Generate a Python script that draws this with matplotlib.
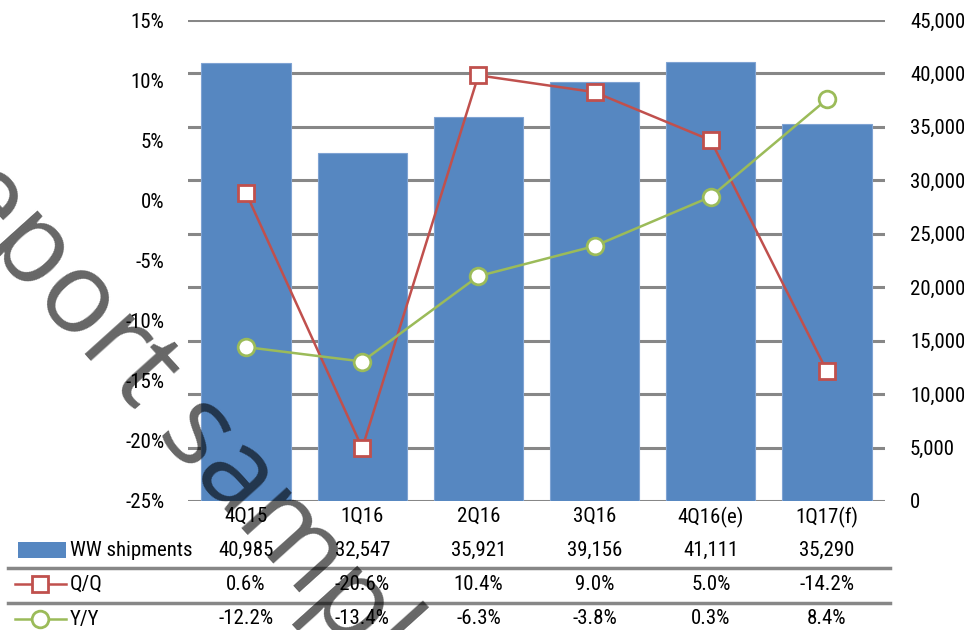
import matplotlib
matplotlib.use("Agg")
import matplotlib.pyplot as plt
import matplotlib.transforms as mtransforms
from matplotlib.lines import Line2D
from matplotlib.patches import Rectangle

plt.rcParams['font.family'] = ['Roboto Condensed', 'Liberation Sans Narrow', 'Liberation Sans', 'DejaVu Sans']

quarters = ["4Q15", "1Q16", "2Q16", "3Q16", "4Q16(e)", "1Q17(f)"]
shipments = [40985, 32547, 35921, 39156, 41111, 35290]
qq = [0.6, -20.6, 10.4, 9.0, 5.0, -14.2]
yy = [-12.2, -13.4, -6.3, -3.8, 0.3, 8.4]
left_ticks = [15, 10, 5, 0, -5, -10, -15, -20, -25]
right_ticks = list(range(0, 45001, 5000))

bar_color = "#5687C1"
red = "#C0504D"
green = "#9BBB59"
grid_color = "#878787"
fs = 15

fig = plt.figure(figsize=(9.64, 6.3), dpi=100)
W, H = 964, 630
ax2 = fig.add_axes([188 / W, 1 - 501 / H, (885 - 188) / W, 481 / H])  # bars, right axis
ax = ax2.twinx()  # percent lines, left axis
ax.yaxis.tick_left()
ax2.yaxis.tick_right()

x = list(range(len(quarters)))

# bars + grid
ax2.set_axisbelow(True)
ax2.bar(x, shipments, width=0.77, color=bar_color, edgecolor="#7FA3D3", linewidth=0.8, zorder=2)
ax2.set_ylim(0, 45000)
ax2.set_yticks(right_ticks)
ax2.set_yticklabels([f"{v:,}" for v in right_ticks], fontsize=fs)
ax2.yaxis.grid(True, color=grid_color, linewidth=2.2, zorder=0)
ax2.tick_params(axis="y", length=0, pad=18)
ax2.set_xlim(-0.5, 5.5)
ax2.set_xticks(x)
ax2.set_xticklabels(quarters, fontsize=fs)
ax2.tick_params(axis="x", length=0, pad=4)
for s in ax2.spines.values():
    s.set_visible(False)

# lines
ax.plot(x, qq, color=red, linewidth=1.8, marker="s", markersize=12,
        markerfacecolor="white", markeredgecolor=red, markeredgewidth=2, zorder=5)
ax.plot(x, yy, color=green, linewidth=1.8, marker="o", markersize=12,
        markerfacecolor="white", markeredgecolor=green, markeredgewidth=2, zorder=5)
ax.set_ylim(-25, 15)
ax.set_yticks(left_ticks)
ax.set_yticklabels([f"{v}%" for v in left_ticks], fontsize=fs)
ax.tick_params(axis="y", length=0, pad=17)
ax.set_xlim(-0.5, 5.5)
for s in ax.spines.values():
    s.set_visible(False)

# data table
trans = mtransforms.blended_transform_factory(ax2.transData, fig.transFigure)
rows = [
    ("WW shipments", [f"{v:,}" for v in shipments], 550),
    ("Q/Q", [f"{v:.1f}%" for v in qq], 584),
    ("Y/Y", [f"{v:.1f}%" for v in yy], 619),
]
for label, vals, ypix in rows:
    yf = 1 - ypix / H
    for xi, v in zip(x, vals):
        ax2.text(xi, yf, v, transform=trans, fontsize=fs, ha="center", va="center", clip_on=False)
    fig.text(70 / W, yf, label, fontsize=fs, ha="left", va="center")

# legend keys
fig.patches.append(Rectangle((18 / W, 1 - 558 / H), 48 / W, 16 / H, transform=fig.transFigure,
                             facecolor=bar_color, edgecolor="none"))
for ypix, col, mk in [(584, red, "s"), (619, green, "o")]:
    yf = 1 - ypix / H
    fig.add_artist(Line2D([15 / W, 66 / W], [yf, yf], color=col, linewidth=1.8,
                          transform=fig.transFigure))
    fig.add_artist(Line2D([40 / W], [yf], color=col, marker=mk, markersize=12,
                          markerfacecolor="white", markeredgewidth=2,
                          transform=fig.transFigure))

# separators
for ypix in [568, 603]:
    yf = 1 - ypix / H
    fig.add_artist(Line2D([8 / W, 890 / W], [yf, yf], color=grid_color, linewidth=2.5,
                          transform=fig.transFigure))

# watermark
fig.text(176 / W, 1 - 412 / H, "Report sample", fontsize=82, family="Open Sans",
         color="black", alpha=0.6, rotation=-48, ha="center", va="center",
         rotation_mode="anchor", zorder=20)

fig.savefig("out.png", dpi=100)
